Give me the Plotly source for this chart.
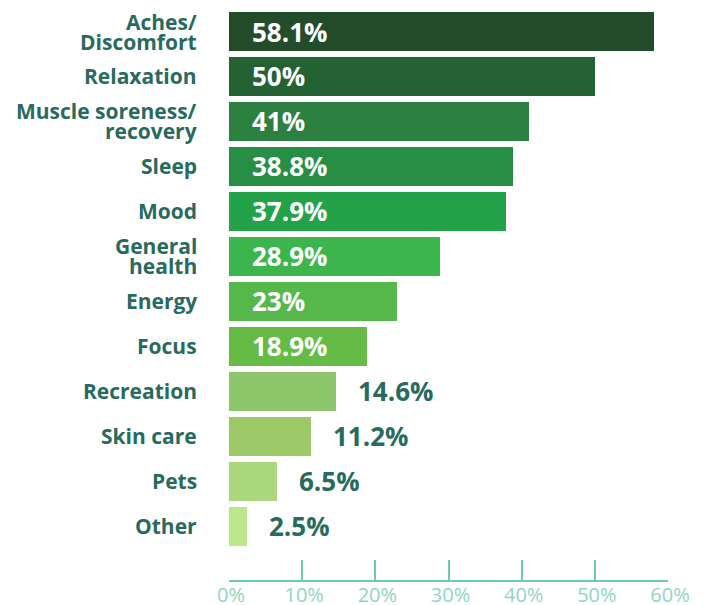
import plotly.graph_objects as go

# Survey: reasons for use (share of respondents, %)
categories = [
    "Aches/\nDiscomfort",
    "Relaxation",
    "Muscle soreness/\nrecovery",
    "Sleep",
    "Mood",
    "General\nhealth",
    "Energy",
    "Focus",
    "Recreation",
    "Skin care",
    "Pets",
    "Other",
]
values = [58.1, 50, 41, 38.8, 37.9, 28.9, 23, 18.9, 14.6, 11.2, 6.5, 2.5]
value_labels = ["58.1%", "50%", "41%", "38.8%", "37.9%", "28.9%", "23%",
                "18.9%", "14.6%", "11.2%", "6.5%", "2.5%"]
bar_colors = ["#234d2a", "#246233", "#2c8040", "#268f45", "#24a24a", "#3db54d",
              "#56b84a", "#66bb46", "#8ec66b", "#9dc868", "#abd77c", "#bbe68a"]
x_ticks = [0, 10, 20, 30, 40, 50, 60]
x_tick_labels = ["0%", "10%", "20%", "30%", "40%", "50%", "60%"]

# values below this threshold get their label outside the bar
INSIDE_MIN = 15

FONT = "Open Sans"
LABEL_COLOR = "#286b5e"
AXIS_COLOR = "#6fcab3"
TICK_TEXT_COLOR = "#8fd5c3"

positions = list(range(len(categories)))

fig = go.Figure(
    go.Bar(
        x=values,
        y=positions,
        orientation="h",
        marker=dict(color=bar_colors, line=dict(width=0)),
        width=0.867,
        hoverinfo="skip",
    )
)

annotations = []
# category names to the left of the bars (multi-line names stacked tightly)
for pos, name in zip(positions, categories):
    lines = name.split("\n")
    n = len(lines)
    for i, line in enumerate(lines):
        annotations.append(dict(
            x=0, xref="paper", y=pos, yref="y",
            text=line, showarrow=False,
            xanchor="right", yanchor="middle",
            xshift=-30, yshift=(n - 1) * 10 - i * 20,
            font=dict(family=FONT, size=21, color=LABEL_COLOR, weight="bold"),
        ))

# value labels: white inside long bars, dark beside short bars
for pos, v, lab in zip(positions, values, value_labels):
    inside = v >= INSIDE_MIN
    annotations.append(dict(
        x=0 if inside else v, xref="x", y=pos, yref="y",
        text=lab, showarrow=False,
        xanchor="left", yanchor="middle",
        xshift=21 if inside else 20,
        font=dict(family=FONT, size=26,
                  color="white" if inside else LABEL_COLOR, weight="bold"),
    ))

fig.update_layout(
    width=704,
    height=605,
    margin=dict(l=229, r=36, t=9, b=25, autoexpand=False),
    paper_bgcolor="white",
    plot_bgcolor="white",
    showlegend=False,
    bargap=0,
    annotations=annotations,
    xaxis=dict(
        range=[0, 60],
        tickvals=x_ticks,
        ticktext=x_tick_labels,
        ticks="inside",
        ticklen=20,
        tickwidth=1.5,
        tickcolor=AXIS_COLOR,
        showline=True,
        linecolor=AXIS_COLOR,
        linewidth=1.5,
        showgrid=False,
        zeroline=False,
        automargin=False,
        ticklabelstandoff=-4,
        ticklabelshift=2,
        tickfont=dict(family=FONT, size=20, color=TICK_TEXT_COLOR),
        fixedrange=True,
    ),
    yaxis=dict(
        range=[12.19, -0.5],
        showticklabels=False,
        showgrid=False,
        zeroline=False,
        showline=False,
        ticks="",
        automargin=False,
        fixedrange=True,
    ),
)

fig.write_html("out.html", config={"displayModeBar": False})
